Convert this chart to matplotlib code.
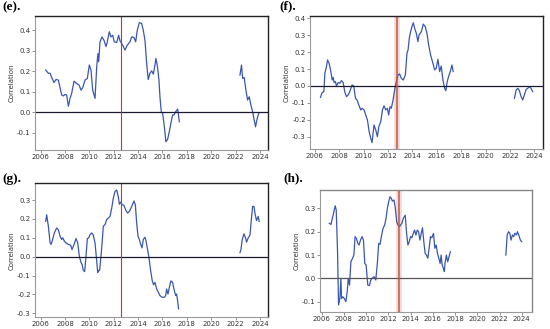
import numpy as np
import matplotlib
matplotlib.use("Agg")
import matplotlib.pyplot as plt

# time since 2006 (years) and correlation values; nan splits the two periods
e_t = [0.41, 0.63, 0.77, 0.90, 1.09, 1.26, 1.45, 1.59, 1.72, 1.86, 2.00, 2.13, 2.27, 2.41, 2.54,
       2.74, 2.95, 3.15, 3.31, 3.45, 3.64, 3.83, 3.99, 4.13, 4.27, 4.46, 4.60, 4.70, 4.76, 4.87,
       5.03, 5.20, 5.36, 5.47, 5.63, 5.77, 5.91, 6.04, 6.24, 6.40, 6.51, 6.73, 6.92, 7.11, 7.33,
       7.47, 7.66, 7.80, 7.93, 8.10, 8.29, 8.42, 8.56, 8.70, 8.83, 8.97, 9.11, 9.25, 9.38, 9.46,
       9.57, 9.71, 9.79, 9.90, 10.01, 10.12, 10.28, 10.42, 10.56, 10.69, 10.83, 10.94, 11.08,
       11.24, 11.30, 11.38, 14.0,
       16.36, 16.49, 16.58, 16.71, 16.85, 16.99, 17.12, 17.26, 17.40, 17.53, 17.64, 17.78, 17.92]
e_val = [0.206, 0.19, 0.19, 0.17, 0.145, 0.16, 0.157, 0.12, 0.085, 0.08, 0.087, 0.085, 0.03, 0.068,
         0.092, 0.152, 0.14, 0.133, 0.108, 0.12, 0.157, 0.165, 0.23, 0.206, 0.108, 0.068, 0.222,
         0.286, 0.246, 0.343, 0.367, 0.35, 0.32, 0.343, 0.392, 0.367, 0.375, 0.343, 0.34, 0.375,
         0.348, 0.327, 0.303, 0.327, 0.343, 0.367, 0.364, 0.343, 0.4, 0.436, 0.432, 0.4, 0.351,
         0.238, 0.16, 0.19, 0.202, 0.186, 0.23, 0.262, 0.23, 0.157, 0.076, 0.003, -0.005, -0.053,
         -0.143, -0.131, -0.094, -0.053, -0.013, -0.013, 0.003, 0.016, -0.005, -0.045, np.nan,
         0.181, 0.23, 0.165, 0.17, 0.108, 0.06, 0.076, 0.036, 0.003, -0.037, -0.07, -0.029, -0.002]

f_t = [0.46, 0.60, 0.74, 0.82, 0.95, 1.04, 1.17, 1.31, 1.42, 1.50, 1.58, 1.69, 1.77, 1.91, 2.05,
       2.18, 2.32, 2.45, 2.59, 2.73, 2.86, 3.05, 3.19, 3.33, 3.46, 3.60, 3.76, 3.87, 4.04, 4.17,
       4.31, 4.45, 4.58, 4.69, 4.85, 4.99, 5.13, 5.24, 5.40, 5.54, 5.67, 5.81, 5.95, 6.05, 6.16,
       6.27, 6.41, 6.54, 6.68, 6.82, 6.95, 7.09, 7.25, 7.42, 7.55, 7.64, 7.74, 7.85, 7.96, 8.07,
       8.18, 8.32, 8.45, 8.54, 8.73, 8.89, 9.05, 9.19, 9.33, 9.49, 9.68, 9.82, 9.95, 10.09, 10.23,
       10.36, 10.50, 10.64, 10.74, 10.85, 10.96, 11.10, 11.24, 11.34, 14.0,
       16.36, 16.50, 16.64, 16.77, 16.91, 17.04, 17.18, 17.32, 17.45, 17.59, 17.73, 17.86]
f_val = [-0.067, -0.039, -0.034, 0.075, 0.114, 0.154, 0.134, 0.085, 0.035, 0.051, 0.02, 0.026,
         0.0, 0.02, 0.016, 0.032, 0.02, -0.034, -0.063, -0.053, -0.034, 0.006, 0.0, -0.073,
         -0.083, -0.112, -0.142, -0.132, -0.142, -0.172, -0.201, -0.27, -0.31, -0.335, -0.231,
         -0.26, -0.3, -0.241, -0.211, -0.142, -0.118, -0.142, -0.132, -0.172, -0.122, -0.132,
         -0.083, -0.024, 0.026, 0.065, 0.071, 0.045, 0.035, 0.065, 0.193, 0.213, 0.282, 0.321,
         0.351, 0.374, 0.341, 0.311, 0.262, 0.302, 0.321, 0.366, 0.351, 0.311, 0.242, 0.183,
         0.134, 0.095, 0.105, 0.158, 0.085, 0.118, 0.035, -0.014, -0.028, 0.026, 0.055, 0.085,
         0.124, 0.085, np.nan,
         -0.073, -0.024, -0.014, -0.028, -0.063, -0.083, -0.053, -0.02, -0.014, -0.004, -0.014,
         -0.034]

g_t = [0.41, 0.49, 0.63, 0.77, 0.85, 0.98, 1.12, 1.31, 1.45, 1.59, 1.72, 1.81, 1.94, 2.08, 2.27,
       2.46, 2.57, 2.74, 2.90, 3.04, 3.17, 3.31, 3.39, 3.50, 3.61, 3.72, 3.83, 3.94, 4.05, 4.18,
       4.32, 4.46, 4.60, 4.68, 4.76, 4.84, 4.95, 5.03, 5.14, 5.28, 5.42, 5.55, 5.69, 5.83, 5.96,
       6.10, 6.24, 6.37, 6.46, 6.56, 6.70, 6.84, 6.97, 7.14, 7.28, 7.41, 7.55, 7.66, 7.77, 7.88,
       7.99, 8.10, 8.21, 8.32, 8.42, 8.56, 8.64, 8.75, 8.89, 9.03, 9.16, 9.27, 9.38, 9.52, 9.66,
       9.79, 9.98, 10.15, 10.26, 10.34, 10.45, 10.56, 10.69, 10.83, 10.94, 11.08, 11.16, 11.24,
       11.32, 14.0,
       16.36, 16.44, 16.55, 16.69, 16.82, 16.90, 17.04, 17.18, 17.31, 17.40, 17.51, 17.59, 17.72,
       17.86, 17.94]
g_val = [0.187, 0.222, 0.161, 0.073, 0.065, 0.091, 0.126, 0.152, 0.143, 0.108, 0.091, 0.1, 0.082,
         0.073, 0.065, 0.061, 0.038, 0.065, 0.096, 0.073, 0.003, -0.031, -0.04, -0.072, -0.079,
         0.003, 0.096, 0.1, 0.117, 0.126, 0.114, 0.073, -0.023, -0.084, -0.072, -0.072, 0.003,
         0.065, 0.161, 0.17, 0.196, 0.205, 0.213, 0.257, 0.309, 0.345, 0.353, 0.318, 0.278, 0.289,
         0.275, 0.271, 0.248, 0.231, 0.24, 0.257, 0.278, 0.295, 0.275, 0.178, 0.108, 0.091, 0.065,
         0.047, 0.091, 0.103, 0.086, 0.047, -0.005, -0.075, -0.128, -0.149, -0.136, -0.171,
         -0.189, -0.206, -0.215, -0.215, -0.206, -0.171, -0.198, -0.163, -0.128, -0.136, -0.171,
         -0.206, -0.198, -0.233, -0.276, np.nan,
         0.021, 0.038, 0.091, 0.121, 0.1, 0.077, 0.1, 0.114, 0.205, 0.266, 0.266, 0.231, 0.191,
         0.213, 0.187]

h_t = [0.69, 0.84, 0.96, 1.10, 1.22, 1.31, 1.43, 1.52, 1.64, 1.73, 1.79, 1.91, 2.03, 2.18, 2.30,
       2.39, 2.51, 2.63, 2.78, 2.90, 3.01, 3.13, 3.25, 3.37, 3.49, 3.64, 3.76, 3.88, 4.00, 4.15,
       4.30, 4.42, 4.54, 4.72, 4.87, 5.01, 5.13, 5.25, 5.37, 5.52, 5.67, 5.79, 5.91, 6.03, 6.15,
       6.27, 6.36, 6.51, 6.63, 6.75, 6.87, 6.99, 7.10, 7.22, 7.34, 7.52, 7.64, 7.76, 7.88, 8.00,
       8.12, 8.24, 8.36, 8.48, 8.60, 8.72, 8.84, 8.96, 9.07, 9.19, 9.31, 9.43, 9.55, 9.67, 9.79,
       9.91, 10.06, 10.18, 10.30, 10.42, 10.54, 10.66, 10.75, 10.84, 10.96, 11.04, 11.10, 11.22,
       11.34, 11.46, 11.58, 14.0,
       16.57, 16.69, 16.81, 16.93, 17.04, 17.16, 17.28, 17.37, 17.52, 17.61, 17.73, 17.88, 18.00]
h_val = [0.236, 0.231, 0.257, 0.286, 0.311, 0.293, 0.114, -0.114, -0.086, 0.0, -0.086, -0.079,
         -0.086, -0.1, -0.057, 0.0, -0.029, 0.071, 0.086, 0.1, 0.179, 0.171, 0.15, 0.143, 0.164,
         0.179, 0.164, 0.064, 0.057, -0.029, -0.031, -0.007, 0.0, 0.007, -0.007, 0.064, 0.15,
         0.146, 0.179, 0.214, 0.229, 0.257, 0.3, 0.329, 0.35, 0.343, 0.331, 0.336, 0.3, 0.243,
         0.229, 0.221, 0.229, 0.236, 0.257, 0.271, 0.193, 0.143, 0.157, 0.179, 0.174, 0.193,
         0.207, 0.186, 0.207, 0.2, 0.164, 0.193, 0.217, 0.157, 0.107, 0.1, 0.086, 0.129, 0.179,
         0.174, 0.193, 0.129, 0.143, 0.107, 0.086, 0.064, 0.1, 0.057, 0.043, 0.029, 0.064, 0.1,
         0.071, 0.093, 0.114, np.nan,
         0.1, 0.186, 0.2, 0.193, 0.164, 0.186, 0.179, 0.193, 0.186, 0.2, 0.186, 0.164, 0.157]

panels = [
    ("(e).", e_t, e_val, 2012.58, [0.0636, 0.544, 0.4236, 0.407], (2005.53, 2024.66), (-0.183, 0.468),
     [-0.1, 0.0, 0.1, 0.2, 0.3, 0.4], (0.005, 0.995)),
    ("(f).", f_t, f_val, 2012.73, [0.5636, 0.547, 0.4236, 0.405], (2005.6, 2024.7), (-0.373, 0.415),
     [-0.3, -0.2, -0.1, 0.0, 0.1, 0.2, 0.3, 0.4], (0.508, 0.998)),
    ("(g).", g_t, g_val, 2012.58, [0.0636, 0.0355, 0.4236, 0.407], (2005.53, 2024.66), (-0.321, 0.388),
     [-0.3, -0.2, -0.1, 0.0, 0.1, 0.2, 0.3], (0.005, 0.475)),
    ("(h).", h_t, h_val, 2012.92, [0.5818, 0.0526, 0.385, 0.37], (2005.85, 2024.9), (-0.143, 0.379),
     [-0.1, 0.0, 0.1, 0.2, 0.3], (0.515, 0.475)),
]

fig = plt.figure(figsize=(5.5, 3.29), dpi=100)
fig.patch.set_facecolor("white")

for i, (lab, t, v, vline, pos, xl, yl, yt, lpos) in enumerate(panels):
    ax = fig.add_axes(pos)
    yrs = 2006 + np.array(t)
    ax.plot(yrs, v, color="#3a56b0", lw=0.9)
    ax.axhline(0, color="#1a1a2e" if i < 3 else "#555555", lw=0.9)
    if i in (1, 3):
        ax.axvline(vline, color="#f6d3d8", lw=4, zorder=0)
        ax.axvline(vline, color="#b8603c", lw=1.1)
    else:
        ax.axvline(vline, color="#c0392b", lw=0.8)
    ax.set_xlim(*xl)
    ax.set_ylim(*yl)
    ax.set_xticks(range(2006, 2025, 2))
    ax.set_yticks(yt)
    ax.set_yticklabels(["%.1f" % y for y in yt])
    ax.tick_params(labelsize=5, length=2, width=0.5, color="#666666", pad=1,
                   labelcolor="#333333")
    ax.set_ylabel("Correlation", fontsize=5, color="#333333", labelpad=2)
    for s in ("left", "bottom"):
        ax.spines[s].set_color("#999999")
        ax.spines[s].set_linewidth(0.8)
    for s in ("top", "right"):
        ax.spines[s].set_color("#222222" if i < 3 else "#888888")
        ax.spines[s].set_linewidth(1.0)
    fig.text(lpos[0], lpos[1], lab, fontsize=9.5, fontweight="bold",
             family="Liberation Serif", va="top", ha="left")

fig.savefig("out.png", dpi=100)
